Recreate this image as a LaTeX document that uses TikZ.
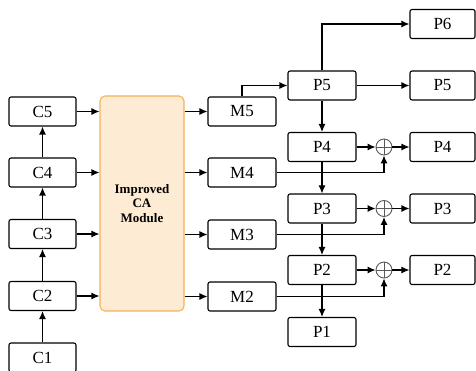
\documentclass[tikz,border=0pt]{standalone}
\usepackage{fontspec}
\setmainfont{Liberation Serif}
\newfontfamily\lserif{Liberation Serif}
\usetikzlibrary{arrows.meta}
\definecolor{cafill}{HTML}{FDEBD3}
\definecolor{cadraw}{HTML}{F4B35E}
\begin{document}
\begin{tikzpicture}[x=1pt,y=-1pt,
  box/.style={draw,line width=1.1pt,rounded corners=2pt,minimum height=29pt,inner sep=0pt,font=\lserif\fontsize{17}{19}\selectfont},
  cbox/.style={box,minimum width=67pt},
  mbox/.style={box,minimum width=68pt},
  rbox/.style={box,minimum width=65pt},
  sumc/.style={circle,draw=black!65,line width=0.9pt,minimum size=16pt,inner sep=0pt},
  arr/.style={line width=1.1pt,-{Latex[length=8pt,width=7pt]}},
  ln/.style={line width=1.1pt}]
\useasboundingbox (0,0) rectangle (476,371);
% C column
\node[cbox] (C5) at (42.5,111.5) {C5};
\node[cbox] (C4) at (42.5,172.5) {C4};
\node[cbox] (C3) at (42.5,234) {C3};
\node[cbox] (C2) at (42.5,296) {C2};
\node[cbox] (C1) at (42.5,357.5) {C1};
% CA module
\node[draw=cadraw,fill=cafill,line width=1.1pt,rounded corners=5pt,minimum width=84pt,minimum height=215pt,inner sep=0pt,
  align=center,font=\lserif\fontsize{13}{14.5}\selectfont\bfseries] (CA) at (142,203.5) {Improved\\CA\\Module};
% M column
\node[mbox] (M5) at (242,111.5) {M5};
\node[mbox] (M4) at (242,172.5) {M4};
\node[mbox] (M3) at (242,234.5) {M3};
\node[mbox] (M2) at (242,296.5) {M2};
% P column
\node[mbox] (P5) at (322,85.5) {P5};
\node[mbox] (P4) at (322,147) {P4};
\node[mbox] (P3) at (322,208.5) {P3};
\node[mbox] (P2) at (322,270) {P2};
\node[mbox] (P1) at (322,332) {P1};
% right column
\node[rbox] (R6) at (442.5,24) {P6};
\node[rbox] (R5) at (442.5,85.5) {P5};
\node[rbox] (R4) at (442.5,147) {P4};
\node[rbox] (R3) at (442.5,208.5) {P3};
\node[rbox] (R2) at (442.5,270) {P2};
% sum circles
\foreach \n/\y in {4/147,3/208.5,2/270}{
  \node[sumc] (S\n) at (384,\y) {};
  \draw[black!65,line width=0.9pt] (S\n.north) -- (S\n.south) (S\n.west) -- (S\n.east);
}
% C chain
\draw[arr] (C1) -- (C2);
\draw[arr] (C2) -- (C3);
\draw[arr] (C3) -- (C4);
\draw[arr] (C4) -- (C5);
% C to CA, CA to M
\foreach \n in {5,4,3,2}{
  \draw[arr] (C\n.east) -- (C\n.east -| CA.west);
  \draw[arr] (M\n.west -| CA.east) -- (M\n.west);
}
% top
\draw[arr] (M5.north) |- (P5.west);
\draw[arr] (P5.north) |- (R6.west);
\draw[arr] (P5.east) -- (R5.west);
% P chain
\draw[arr] (P5) -- (P4);
\draw[arr] (P4) -- (P3);
\draw[arr] (P3) -- (P2);
\draw[arr] (P2) -- (P1);
% sums
\foreach \n in {4,3,2}{
  \draw[arr] (P\n.east) -- (S\n.west);
  \draw[arr] (S\n.east) -- (R\n.west);
  \draw[arr] (M\n.east) -| (S\n.south);
}
\end{tikzpicture}
\end{document}
